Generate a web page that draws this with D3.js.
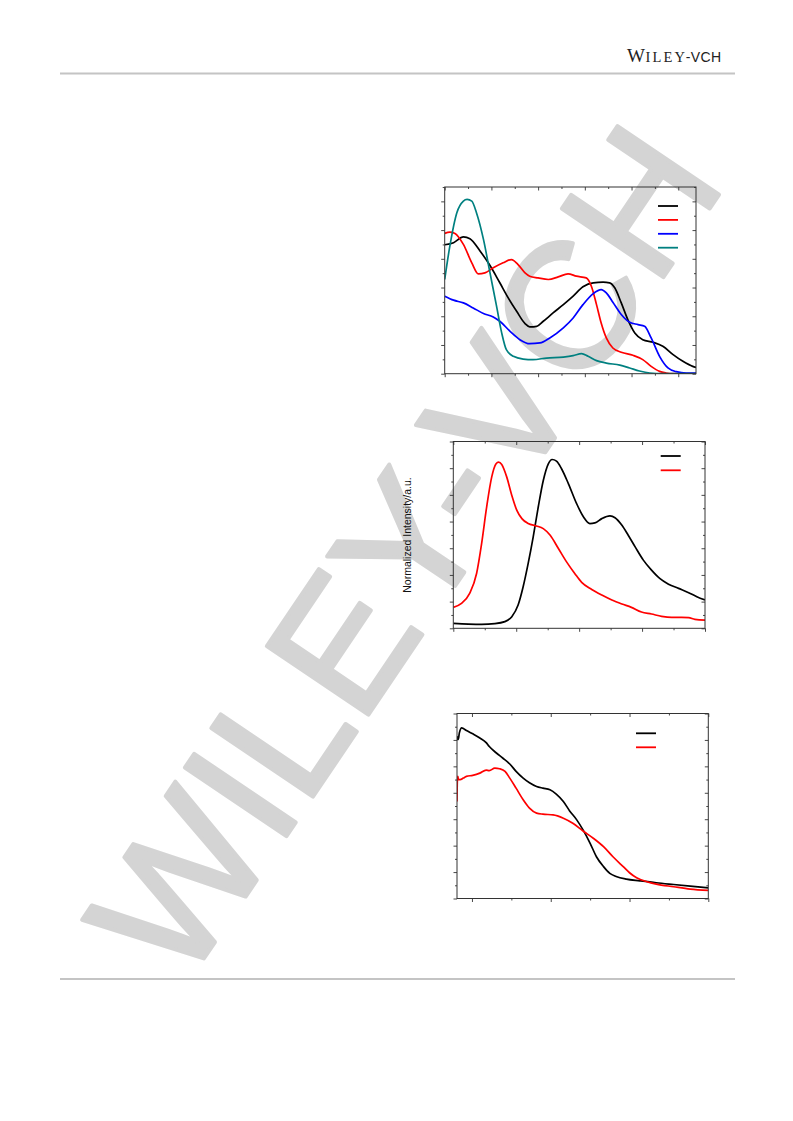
<!DOCTYPE html>
<html><head><meta charset="utf-8">
<script src="https://cdn.jsdelivr.net/npm/d3@7"></script>
<style>body{margin:0;background:#fff}svg{display:block}</style>
</head><body>
<script>
// ---------- DATA ----------
// Chart 1 (absorption-like, 4 series)
const c1BlackX = [300,319,340,354,376,397,418,436,454,472,482,497,511,532,554,575,596,618,639,653,664,678,692,707,724,746,767,789,810,831,838];
const c1BlackY = [0.898,0.912,0.953,0.940,0.853,0.753,0.633,0.528,0.435,0.349,0.326,0.330,0.365,0.423,0.481,0.540,0.605,0.633,0.637,0.633,0.598,0.493,0.377,0.284,0.237,0.219,0.191,0.133,0.086,0.051,0.044];
const c1RedX = [300,311,322,340,358,372,386,404,425,443,457,472,482,500,522,543,564,582,603,614,625,635,646,660,678,703,724,742,760,774,789,838];
const c1RedY = [0.977,0.986,0.977,0.900,0.772,0.695,0.702,0.737,0.772,0.795,0.760,0.702,0.679,0.667,0.656,0.674,0.695,0.679,0.667,0.609,0.481,0.353,0.249,0.179,0.149,0.128,0.098,0.051,0.016,0.005,0,0];
const c1BlueX = [300,319,340,361,383,404,418,440,461,482,504,525,554,575,596,618,635,646,660,678,696,714,728,742,760,778,796,817,838];
const c1BlueY = [0.540,0.512,0.493,0.458,0.419,0.395,0.365,0.295,0.237,0.209,0.214,0.249,0.319,0.388,0.481,0.558,0.586,0.563,0.498,0.412,0.358,0.342,0.330,0.249,0.121,0.040,0.014,0.005,0.005];
const c1TealX = [300,311,326,340,348,358,368,383,397,411,422,432,447,468,489,518,554,575,593,607,625,646,675,696,717,739,767,838];
const c1TealY = [0.656,0.888,1.121,1.202,1.214,1.202,1.121,0.935,0.702,0.470,0.284,0.167,0.121,0.102,0.098,0.109,0.116,0.126,0.140,0.121,0.091,0.074,0.060,0.040,0.019,0.005,0,0];
const c1XDomain = [300, 838];
const c1YDomain = [0, 1.3];
const c1Colors = ["#000000", "#ff0000", "#0000ff", "#008080"];

// Chart 2 (normalized emission, 2 series)
const c2BlackX = [400,424,445,466,482,493,503,511,519,527,535,543,551,557,564,572,583,596,607,617,625,636,649,657,668,678,689,702,715,728,742,758,774,787,800];
const c2BlackY = [0.037,0.032,0.030,0.035,0.050,0.087,0.174,0.311,0.486,0.685,0.909,1.108,1.233,1.265,1.253,1.196,1.083,0.934,0.834,0.785,0.790,0.822,0.842,0.829,0.772,0.697,0.610,0.511,0.436,0.374,0.331,0.299,0.267,0.237,0.212];
const c2RedX = [400,413,426,437,445,453,461,468,472,477,485,493,501,509,519,532,543,554,567,580,593,604,620,636,652,668,683,699,715,731,747,763,774,784,800];
const c2RedY = [0.157,0.187,0.262,0.411,0.635,0.909,1.133,1.233,1.245,1.228,1.133,0.996,0.884,0.822,0.785,0.767,0.747,0.697,0.598,0.498,0.411,0.344,0.291,0.249,0.212,0.182,0.157,0.122,0.107,0.090,0.082,0.082,0.080,0.067,0.062];
const c2XDomain = [400, 800];
const c2YDomain = [0, 1.4];
const c2Colors = ["#000000", "#ff0000"];
const c2YLabel = "Normalized Intensity/a.u.";

// Chart 3 (2 series)
const c3BlackX = [381,382,383,384,387,389,393,401,410,418,422,431,439,448,456,465,473,482,490,499,507,516,524,533,541,550,558,567,575,583,596,613,634,656,677,700];
const c3BlackY = [1.228,1.203,1.215,1.253,1.291,1.286,1.271,1.246,1.215,1.180,1.150,1.101,1.063,1.018,0.962,0.911,0.876,0.848,0.835,0.823,0.790,0.734,0.663,0.595,0.519,0.418,0.316,0.241,0.190,0.167,0.147,0.134,0.119,0.106,0.094,0.081];
const c3RedX = [381,381.4,382,383,385,389,393,401,410,418,422,429,435,442,448,456,465,473,482,490,503,516,528,541,554,567,579,592,600,609,622,634,656,677,700];
const c3RedY = [0.734,0.886,0.924,0.899,0.899,0.911,0.924,0.932,0.949,0.972,0.967,0.987,0.982,0.962,0.911,0.835,0.747,0.684,0.646,0.638,0.633,0.608,0.570,0.511,0.456,0.392,0.316,0.241,0.195,0.157,0.127,0.109,0.089,0.071,0.061];
const c3XDomain = [381, 700];
const c3YDomain = [0, 1.4];
const c3Colors = ["#000000", "#ff0000"];

const headerText = ["W", "ILEY", "-VCH"];
const watermarkText = "WILEY-VCH";

// ---------- DRAW ----------
const W = 793, H = 1121;
const svg = d3.select("body").append("svg").attr("width", W).attr("height", H);

// watermark
svg.append("text")
  .attr("transform", "translate(402,550) rotate(-56)")
  .attr("text-anchor", "middle")
  .attr("dy", "0.36em")
  .attr("font-family", "Liberation Sans, Arial, sans-serif")
  .attr("font-size", 178)
  .attr("fill", "#d4d4d4")
  .attr("stroke", "#d4d4d4")
  .attr("stroke-width", 4)
  .attr("stroke-linejoin", "round")
  .text(watermarkText);

// header
const hdr = svg.append("text").attr("x", 627).attr("y", 62).attr("fill", "#222");
hdr.append("tspan").attr("font-family", "Liberation Serif, Times New Roman, serif").attr("font-size", 19).attr("letter-spacing", 0.5).text(headerText[0]);
hdr.append("tspan").attr("font-family", "Liberation Serif, Times New Roman, serif").attr("font-size", 14.5).attr("letter-spacing", 2.2).text(headerText[1]);
hdr.append("tspan").attr("font-family", "Liberation Sans, Arial, sans-serif").attr("font-size", 14).attr("letter-spacing", 0.4).attr("dx", -1.5).text(headerText[2]);

svg.append("line").attr("x1", 60).attr("x2", 735).attr("y1", 73.5).attr("y2", 73.5).attr("stroke", "#c4c4c4").attr("stroke-width", 2);
svg.append("line").attr("x1", 60).attr("x2", 735).attr("y1", 979).attr("y2", 979).attr("stroke", "#c4c4c4").attr("stroke-width", 2);

function drawChart(cfg) {
  const g = svg.append("g");
  const x = d3.scaleLinear().domain(cfg.xDomain).range([cfg.left, cfg.right]);
  const y = d3.scaleLinear().domain(cfg.yDomain).range([cfg.bottom, cfg.top]);
  const xMaj = d3.range(Math.ceil(cfg.xDomain[0] / 100) * 100, cfg.xDomain[1] + 1e-9, 100);
  const xMin = d3.range(Math.ceil(cfg.xDomain[0] / 50) * 50, cfg.xDomain[1] + 1e-9, 50).filter(v => v % 100 !== 0);
  const yMaj = d3.range(0, cfg.yDomain[1] + 1e-9, 0.2);
  const yMin = d3.range(0.1, cfg.yDomain[1] + 1e-9, 0.2);
  const tk = "#333";
  const MJ = 3.5, MN = 2;
  const addTicks = (axisFn, scale, vals, size, tr) => {
    g.append("g").attr("transform", tr)
      .call(axisFn(scale).tickValues(vals).tickSize(size).tickFormat(""))
      .call(a => a.select(".domain").remove());
  };
  addTicks(d3.axisBottom, x, xMaj, MJ, `translate(0,${cfg.bottom})`);
  addTicks(d3.axisBottom, x, xMin, MN, `translate(0,${cfg.bottom})`);
  addTicks(d3.axisBottom, x, xMaj, MJ, `translate(0,${cfg.top})`);
  addTicks(d3.axisBottom, x, xMin, MN, `translate(0,${cfg.top})`);
  addTicks(d3.axisLeft, y, yMaj, MJ, `translate(${cfg.left},0)`);
  addTicks(d3.axisLeft, y, yMin, MN, `translate(${cfg.left},0)`);
  addTicks(d3.axisLeft, y, yMaj, MJ, `translate(${cfg.right},0)`);
  addTicks(d3.axisLeft, y, yMin, MN, `translate(${cfg.right},0)`);
  g.selectAll(".tick line").attr("stroke", tk).attr("stroke-width", 0.9);

  const line = d3.line().x(d => x(d[0])).y(d => y(d[1])).curve(d3.curveMonotoneX);
  const clipId = "clip" + cfg.id;
  svg.append("clipPath").attr("id", clipId).append("rect")
    .attr("x", cfg.left).attr("y", cfg.top).attr("width", cfg.right - cfg.left).attr("height", cfg.bottom - cfg.top);
  cfg.series.forEach((s, i) => {
    g.append("path").datum(d3.zip(s.x, s.y))
      .attr("d", line).attr("fill", "none")
      .attr("stroke", cfg.colors[i]).attr("stroke-width", 1.7)
      .attr("stroke-linejoin", "round")
      .attr("clip-path", `url(#${clipId})`);
  });
  g.append("rect").attr("x", cfg.left).attr("y", cfg.top)
    .attr("width", cfg.right - cfg.left).attr("height", cfg.bottom - cfg.top)
    .attr("fill", "none").attr("stroke", tk).attr("stroke-width", 1);
  cfg.colors.forEach((c, i) => {
    g.append("line").attr("x1", cfg.legX).attr("x2", cfg.legX + 20)
      .attr("y1", cfg.legY + i * cfg.legStep).attr("y2", cfg.legY + i * cfg.legStep)
      .attr("stroke", c).attr("stroke-width", 1.8);
  });
  if (cfg.yLabel) {
    g.append("text")
      .attr("transform", `translate(${cfg.labelX},${cfg.labelY}) rotate(-90)`)
      .attr("text-anchor", "middle")
      .attr("font-family", "Liberation Sans, Arial, sans-serif")
      .attr("font-size", 10.5).attr("fill", "#111")
      .text(cfg.yLabel);
  }
}

drawChart({
  id: 1, left: 444.7, right: 696, top: 187, bottom: 373.7,
  xDomain: c1XDomain, yDomain: c1YDomain, colors: c1Colors,
  series: [{x: c1BlackX, y: c1BlackY}, {x: c1RedX, y: c1RedY}, {x: c1BlueX, y: c1BlueY}, {x: c1TealX, y: c1TealY}],
  legX: 658, legY: 206, legStep: 13.9
});
drawChart({
  id: 2, left: 453.3, right: 705, top: 441.5, bottom: 628.3,
  xDomain: c2XDomain, yDomain: c2YDomain, colors: c2Colors,
  series: [{x: c2BlackX, y: c2BlackY}, {x: c2RedX, y: c2RedY}],
  legX: 660.7, legY: 456, legStep: 14.3,
  yLabel: c2YLabel, labelX: 411, labelY: 535
});
drawChart({
  id: 3, left: 457, right: 708.3, top: 713.5, bottom: 898.5,
  xDomain: c3XDomain, yDomain: c3YDomain, colors: c3Colors,
  series: [{x: c3BlackX, y: c3BlackY}, {x: c3RedX, y: c3RedY}],
  legX: 636, legY: 733.3, legStep: 14
});
</script>
</body></html>
